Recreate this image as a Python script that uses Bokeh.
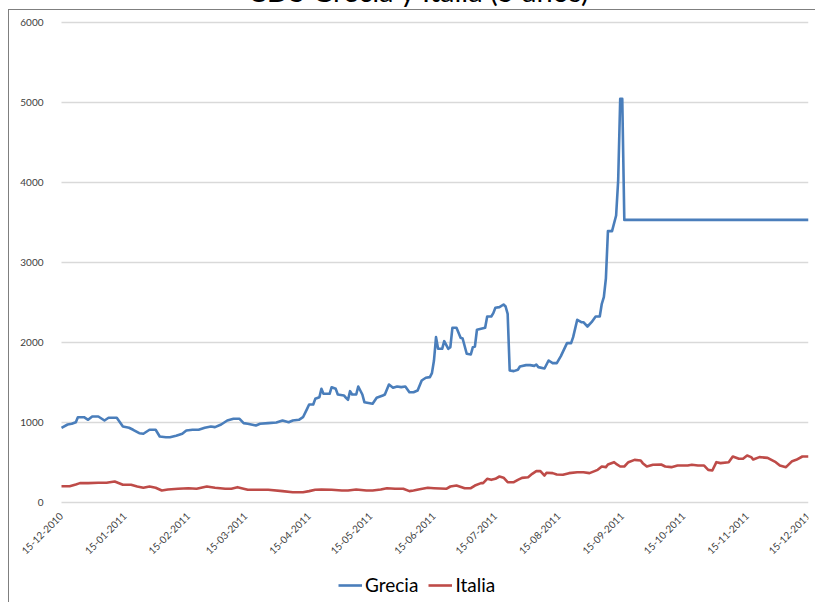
import pandas as pd
from math import pi
from bokeh.plotting import figure
from bokeh.models import FixedTicker, Legend, LegendItem, Title, Range1d
from bokeh.embed import file_html
from bokeh.resources import INLINE

titulo = "CDS Grecia y Italia (5 años)"
inicio = "15-12-2010"
etiquetas_x = ["15-12-2010", "15-01-2011", "15-02-2011", "15-03-2011", "15-04-2011",
               "15-05-2011", "15-06-2011", "15-07-2011", "15-08-2011", "15-09-2011",
               "15-10-2011", "15-11-2011", "15-12-2011"]
ticks_y = [0, 1000, 2000, 3000, 4000, 5000, 6000]

# días desde 15-12-2010
dias_grecia = [0, 3, 5, 7, 8, 11, 13, 15, 18, 21,
               23, 27, 30, 33, 35, 38, 40, 43, 46, 48,
               51, 53, 56, 59, 61, 64, 67, 70, 73, 75,
               78, 81, 84, 87, 89, 91, 95, 97, 101, 105,
               108, 111, 113, 116, 118, 120, 121, 123, 124, 126,
               127, 128, 131, 132, 134, 135, 138, 139, 140, 141,
               142, 144, 145, 147, 148, 152, 154, 157, 158, 160,
               162, 164, 166, 168, 170, 172, 174, 176, 178, 180,
               181, 182, 183, 184, 186, 187, 189, 190, 191, 193,
               195, 196, 198, 200, 201, 202, 203, 205, 207, 208,
               210, 211, 212, 214, 216, 217, 218, 219, 221, 223,
               224, 227, 229, 231, 232, 233, 236, 238, 240, 242,
               244, 247, 249, 250, 252, 254, 255, 257, 259, 261,
               263, 264, 265, 266, 267, 269, 271, 272, 273, 274,
               275, 365]
grecia = [934, 975, 984, 1004, 1066, 1066, 1034, 1075, 1075, 1025,
          1059, 1059, 950, 934, 909, 866, 859, 909, 909, 825,
          816, 816, 834, 859, 900, 909, 909, 934, 950, 942,
          975, 1025, 1046, 1046, 992, 984, 963, 984, 992, 1000,
          1025, 1004, 1025, 1034, 1066, 1171, 1225, 1225, 1296, 1316,
          1421, 1359, 1359, 1441, 1421, 1350, 1338, 1309, 1284, 1392,
          1350, 1350, 1450, 1350, 1254, 1234, 1309, 1338, 1350, 1475,
          1434, 1450, 1442, 1450, 1379, 1379, 1400, 1525, 1559, 1567,
          1617, 1775, 2067, 1921, 1921, 2017, 1921, 1942, 2184, 2184,
          2059, 2050, 1859, 1850, 1942, 1950, 2159, 2171, 2184, 2325,
          2325, 2367, 2434, 2442, 2475, 2450, 2359, 1650, 1642, 1659,
          1700, 1717, 1717, 1708, 1725, 1692, 1675, 1775, 1742, 1742,
          1830, 1992, 1992, 2067, 2284, 2254, 2254, 2200, 2254, 2325,
          2325, 2484, 2567, 2800, 3392, 3392, 3587, 4025, 5046, 5046,
          3533, 3533]

dias_italia = [0, 4, 7, 9, 13, 18, 22, 26, 30, 34,
               37, 40, 43, 46, 49, 52, 57, 62, 66, 71,
               75, 80, 83, 86, 91, 95, 101, 108, 113, 118,
               121, 124, 127, 132, 137, 140, 144, 149, 152, 156,
               159, 163, 167, 170, 172, 175, 179, 182, 188, 190,
               193, 197, 200, 202, 205, 206, 208, 210, 212, 214,
               216, 218, 221, 223, 225, 228, 230, 232, 234, 236,
               237, 240, 242, 245, 248, 252, 255, 258, 262, 264,
               266, 267, 270, 271, 273, 275, 277, 280, 283, 284,
               286, 289, 293, 295, 298, 301, 306, 308, 311, 314,
               316, 318, 320, 322, 326, 328, 331, 333, 335, 337,
               338, 341, 345, 349, 351, 354, 357, 359, 362, 365]
italia = [204, 204, 225, 242, 242, 246, 246, 262, 221, 221,
          200, 184, 200, 184, 150, 162, 171, 179, 171, 200,
          184, 171, 171, 192, 159, 159, 159, 142, 129, 129,
          142, 159, 163, 159, 150, 150, 163, 150, 150, 163,
          179, 171, 171, 142, 150, 165, 184, 179, 171, 200,
          212, 179, 179, 212, 242, 242, 296, 283, 296, 325,
          310, 254, 254, 283, 308, 316, 358, 392, 392, 337,
          371, 367, 350, 346, 367, 379, 379, 367, 408, 450,
          442, 475, 504, 483, 450, 450, 504, 533, 525, 492,
          450, 471, 475, 450, 442, 462, 462, 471, 462, 462,
          408, 400, 504, 492, 504, 575, 546, 546, 587, 567,
          537, 567, 558, 504, 462, 442, 517, 533, 575, 575]

t0 = pd.to_datetime(inicio, format="%d-%m-%Y")
ticks_x = [int((pd.to_datetime(s, format="%d-%m-%Y") - t0).days) for s in etiquetas_x]

FONT = "Lato"
N = 34  # parte superior del gráfico (título) que queda fuera de la ventana
# el marco ocupa de x=10 a x=808 y de y=12 hasta abajo (80 px por cada 1000)
x_inicio = ticks_x[0] - (ticks_x[-1] - ticks_x[0]) * 51.0 / 747.0
p = figure(width=815, height=602 + N, output_backend="svg", toolbar_location=None,
           x_range=Range1d(x_inicio, ticks_x[-1]), y_range=Range1d(-1250, 6125),
           min_border_left=10, min_border_right=7, min_border_top=0, min_border_bottom=0)
p.title = Title(text=titulo, align="left", offset=237, standoff=9,
                text_font=FONT, text_font_size="29px", text_font_style="normal",
                text_color="#000000")
p.outline_line_color = None
p.background_fill_color = None
p.border_fill_color = None
p.styles = {
    "margin-top": f"-{N}px",
    "background": ("linear-gradient(#7f7f7f, #7f7f7f) 8px %dpx / 1px 100%% no-repeat, "
                   "linear-gradient(#7f7f7f, #7f7f7f) 8px %dpx / 100%% 1px no-repeat, white")
                  % (9 + N, 9 + N),
}

# líneas de la cuadrícula sólo sobre el intervalo de fechas
p.segment(x0=[ticks_x[0]] * len(ticks_y), x1=[ticks_x[-1]] * len(ticks_y),
          y0=ticks_y, y1=ticks_y, line_color="#d9d9d9", line_width=1.5)

r1 = p.line(dias_grecia, grecia, line_color="#4a7ebb", line_width=2.6, line_join="round")
r2 = p.line(dias_italia, italia, line_color="#be4b48", line_width=2.6, line_join="round")

p.xgrid.visible = False
p.ygrid.visible = False

p.yaxis.fixed_location = ticks_x[0]
p.yaxis.ticker = FixedTicker(ticks=ticks_y)
p.yaxis.axis_line_color = None
p.yaxis.major_tick_line_color = None
p.yaxis.minor_tick_line_color = None
p.yaxis.major_label_text_font = FONT
p.yaxis.major_label_text_font_size = "10px"
p.yaxis.major_label_text_color = "#404040"
p.yaxis.major_label_standoff = 12

p.xaxis.fixed_location = 0
p.xaxis.bounds = (ticks_x[0], ticks_x[-1])
p.xaxis.ticker = FixedTicker(ticks=ticks_x)
p.xaxis.major_label_overrides = {t: s for t, s in zip(ticks_x, etiquetas_x)}
p.xaxis.major_label_orientation = pi / 4
p.xaxis.axis_line_color = None
p.xaxis.major_tick_line_color = None
p.xaxis.minor_tick_line_color = None
p.xaxis.major_label_text_font = FONT
p.xaxis.major_label_text_font_size = "10px"
p.xaxis.major_label_text_color = "#404040"
p.xaxis.major_label_standoff = 6

legend = Legend(items=[LegendItem(label="Grecia", renderers=[r1]),
                       LegendItem(label="Italia", renderers=[r2])],
                orientation="horizontal", location=(328, 6))
legend.background_fill_alpha = 0
legend.border_line_alpha = 0
legend.padding = 0
legend.margin = 0
legend.spacing = 10
legend.label_standoff = 3
legend.glyph_width = 24
legend.glyph_height = 22
legend.label_height = 22
legend.label_text_font = FONT
legend.label_text_font_size = "19px"
legend.label_text_color = "#000000"
p.add_layout(legend)

open("out.html", "w").write(file_html(p, INLINE))
